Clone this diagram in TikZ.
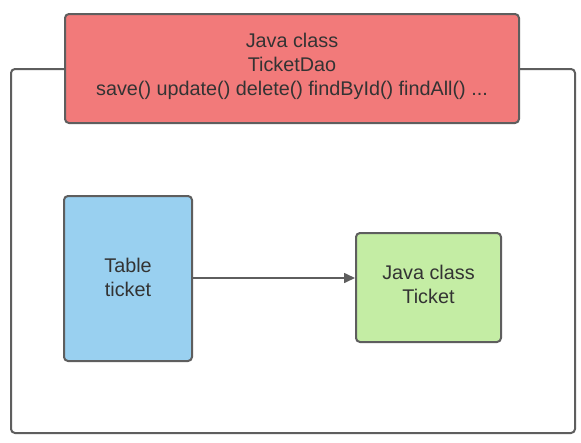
\documentclass[tikz,border=0pt]{standalone}
\usepackage{fontspec}
\setmainfont{Liberation Sans}
\usetikzlibrary{arrows.meta}
\definecolor{edge}{HTML}{5E5E5E}
\definecolor{txt}{HTML}{333333}
\definecolor{daored}{HTML}{F27A7A}
\definecolor{tblue}{HTML}{99D0F0}
\definecolor{cgreen}{HTML}{C4EDA4}
\begin{document}
\begin{tikzpicture}[x=1pt,y=-1pt,
  box/.style={draw=edge,line width=2pt,rounded corners=4pt},
  lbl/.style={text=txt,align=center,font=\fontsize{19.8}{24}\selectfont}]
\useasboundingbox[fill=white] (0,0) rectangle (581,442);
% container
\draw[box,fill=white] (11,69) rectangle (575,433);
% DAO class
\draw[box,fill=daored] (65,14) rectangle (519,123);
\node[lbl] (dao) at (292,66) {Java class\\TicketDao\\save() update() delete() findById() findAll() ...};
% table and entity
\node[box,fill=tblue,minimum width=128pt,minimum height=165pt,inner sep=0pt] (tbl) at (128,278.5) {};
\node[lbl] (tbltxt) at (128,277) {Table\\ticket};
\node[box,fill=cgreen,minimum width=145pt,minimum height=109pt,inner sep=0pt] (ent) at (428.5,287.5) {};
\node[lbl] (enttxt) at (428.5,284) {Java class\\Ticket};
\draw[edge,line width=1.6pt,-{Triangle[length=11pt,width=10pt]}] (tbl.east |- 0,278) coordinate (a) -- (ent.west |- a);
\end{tikzpicture}
\end{document}
